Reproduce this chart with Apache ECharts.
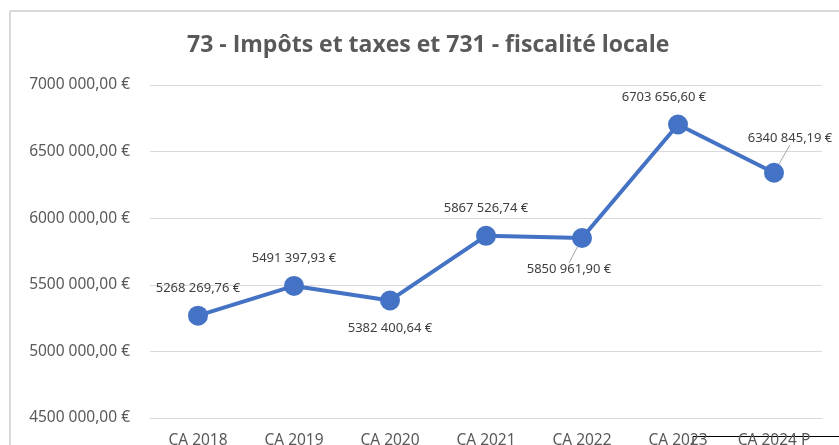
<!DOCTYPE html>
<html>
<head>
<meta charset="utf-8">
<script src="https://cdn.jsdelivr.net/npm/echarts@6/dist/echarts.min.js"></script>
<style>
  html, body { margin: 0; padding: 0; background: #fff; }
  #main { width: 839px; height: 445px; }
</style>
</head>
<body>
<div id="main"></div>
<script>
// données
var categories = ['CA 2018', 'CA 2019', 'CA 2020', 'CA 2021', 'CA 2022', 'CA 2023', 'CA 2024 P'];
var montants = [5268269.76, 5491397.93, 5382400.64, 5867526.74, 5850961.90, 6703656.60, 6340845.19];
var labelPos = ['top', 'top', 'bottom', 'top', 'bottom', 'top', 'top'];
var yMin = 4500000, yMax = 7000000, yStep = 500000;

// format "7000 000,00 €"
function euro(v) {
    var s = v.toFixed(2).split('.');
    var ent = s[0];
    var out = ent.length > 3 ? ent.slice(0, ent.length - 3) + ' ' + ent.slice(-3) : ent;
    return out + ',' + s[1] + ' €';
}

var myChart = echarts.init(document.getElementById('main'));
var font = '"Noto Sans", sans-serif';

var option = {
    backgroundColor: '#ffffff',
    animation: false,
    title: {
        text: '73 - Impôts et taxes et 731 - fiscalité locale',
        left: 182,
        top: 29,
        textStyle: { color: '#595959', fontSize: 23, fontWeight: 'bold', fontFamily: '"Open Sans", sans-serif' }
    },
    grid: { left: 150, right: 17, top: 85, bottom: 27, outerBoundsMode: 'none', containLabel: false },
    xAxis: {
        type: 'category',
        data: categories,
        boundaryGap: true,
        axisLine: { lineStyle: { color: '#d9d9d9', width: 1 } },
        axisTick: { show: false },
        axisLabel: { color: '#595959', fontSize: 15.5, margin: 15, fontFamily: font }
    },
    yAxis: {
        type: 'value',
        min: yMin,
        max: yMax,
        interval: yStep,
        axisLine: { show: false },
        axisTick: { show: false },
        splitLine: { lineStyle: { color: '#d9d9d9', width: 1 } },
        axisLabel: { color: '#595959', fontSize: 15.5, margin: 20, fontFamily: font, formatter: euro }
    },
    series: [{
        type: 'line',
        data: montants.map(function (v, i) {
            return {
                value: v,
                label: { position: labelPos[i] },
                labelLine: { show: i === 4 || i === 6 }
            };
        }),
        symbol: 'circle',
        symbolSize: 20,
        lineStyle: { color: '#4472c4', width: 4 },
        itemStyle: { color: '#4472c4' },
        label: {
            show: true,
            distance: 11,
            color: '#404040',
            fontSize: 13,
            fontFamily: font,
            formatter: function (p) { return euro(p.value); }
        },
        labelLine: { show: false, lineStyle: { color: '#a6a6a6', width: 1 } },
        labelLayout: function (p) {
            if (p.dataIndex === 4) return { dx: -13, dy: 4 };
            if (p.dataIndex === 5) return { dx: -14 };
            if (p.dataIndex === 6) return { dx: 16, dy: -7 };
            return {};
        }
    }],
    graphic: [
        { type: 'line', shape: { x1: 10, y1: 11, x2: 839, y2: 11 }, style: { stroke: '#d9d9d9', lineWidth: 2 } },
        { type: 'line', shape: { x1: 10, y1: 11, x2: 10, y2: 445 }, style: { stroke: '#d9d9d9', lineWidth: 2 } },
        { type: 'polyline', shape: { points: [[693, 445], [693, 436.5], [839, 436.5]] }, style: { stroke: '#000', lineWidth: 1, fill: null } }
    ]
};

myChart.setOption(option);
</script>
</body>
</html>
